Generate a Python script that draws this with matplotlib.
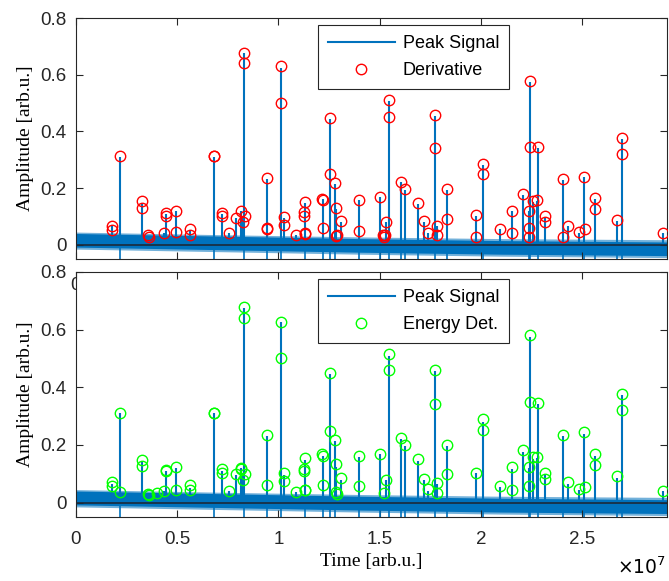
import matplotlib
matplotlib.use("Agg")
import matplotlib.pyplot as plt
from matplotlib.lines import Line2D
from matplotlib.ticker import FuncFormatter

# peak signal: spike positions (x1e7) and spike heights
spike_t = [0.176, 0.217, 0.324, 0.358, 0.436, 0.444, 0.494, 0.563, 0.681, 0.722,
           0.757, 0.793, 0.814, 0.823, 0.829, 0.944, 1.012, 1.027, 1.086, 1.130,
           1.219, 1.255, 1.280, 1.287, 1.308, 1.397, 1.504, 1.530, 1.545, 1.604,
           1.627, 1.691, 1.719, 1.739, 1.774, 1.785, 1.833, 1.978, 2.010, 2.096,
           2.155, 2.208, 2.236, 2.244, 2.257, 2.279, 2.282, 2.318, 2.405, 2.433,
           2.483, 2.512, 2.562, 2.674, 2.697, 2.902]
spike_h = [0.065, 0.310, 0.145, 0.030, 0.040, 0.110, 0.120, 0.050, 0.310, 0.110,
           0.040, 0.095, 0.120, 0.100, 0.675, 0.232, 0.625, 0.095, 0.035, 0.148,
           0.160, 0.445, 0.215, 0.125, 0.080, 0.157, 0.167, 0.080, 0.508, 0.220,
           0.195, 0.143, 0.080, 0.040, 0.455, 0.065, 0.195, 0.103, 0.280, 0.055,
           0.118, 0.177, 0.120, 0.575, 0.150, 0.155, 0.343, 0.097, 0.230, 0.065,
           0.042, 0.238, 0.162, 0.085, 0.373, 0.040]
# spikes that also dip below the noise band
dip_t = [0.217, 0.681, 0.829, 0.944, 1.012, 1.130, 1.219, 1.255, 1.280, 1.397,
         1.504, 1.545, 1.604, 1.627, 1.691, 1.774, 1.833, 2.010, 2.236, 2.244,
         2.282, 2.405, 2.512, 2.562, 2.674, 2.697]

# noise band envelope
band_t = [0.0, 0.7, 1.4, 2.1, 2.92]
core_hi = [0.040, 0.031, 0.022, 0.015, 0.010]
core_lo = [-0.008, -0.017, -0.026, -0.033, -0.038]
fringe_hi = [0.045, 0.036, 0.028, 0.022, 0.018]
fringe_lo = [-0.015, -0.024, -0.033, -0.040, -0.045]

# detected peaks, derivative method
der_t = [0.176, 0.176, 0.217, 0.324, 0.324, 0.358, 0.360, 0.436, 0.444, 0.444,
         0.494, 0.494, 0.563, 0.563, 0.681, 0.683, 0.722, 0.722, 0.757, 0.793,
         0.814, 0.823, 0.836, 0.829, 0.829, 0.944, 0.944, 0.946, 1.012, 1.012,
         1.027, 1.027, 1.086, 1.130, 1.128, 1.128, 1.131, 1.132, 1.215, 1.219,
         1.219, 1.255, 1.256, 1.280, 1.287, 1.285, 1.290, 1.308, 1.397, 1.397,
         1.504, 1.516, 1.521, 1.525, 1.530, 1.545, 1.545, 1.604, 1.627, 1.691,
         1.719, 1.739, 1.774, 1.774, 1.785, 1.785, 1.833, 1.833, 1.978, 1.978,
         2.010, 2.010, 2.096, 2.155, 2.155, 2.208, 2.236, 2.236, 2.236, 2.244,
         2.244, 2.257, 2.279, 2.282, 2.318, 2.318, 2.405, 2.405, 2.433, 2.483,
         2.512, 2.515, 2.562, 2.562, 2.674, 2.697, 2.697, 2.902]
der_v = [0.067, 0.053, 0.314, 0.153, 0.129, 0.035, 0.029, 0.041, 0.114, 0.100,
         0.121, 0.045, 0.055, 0.034, 0.314, 0.313, 0.114, 0.100, 0.041, 0.096,
         0.121, 0.082, 0.102, 0.678, 0.640, 0.237, 0.059, 0.057, 0.631, 0.499,
         0.099, 0.070, 0.035, 0.152, 0.117, 0.102, 0.041, 0.038, 0.163, 0.159,
         0.059, 0.449, 0.250, 0.217, 0.129, 0.032, 0.034, 0.083, 0.159, 0.050,
         0.170, 0.033, 0.029, 0.033, 0.082, 0.511, 0.452, 0.223, 0.197, 0.146,
         0.083, 0.043, 0.457, 0.343, 0.068, 0.035, 0.197, 0.092, 0.106, 0.029,
         0.284, 0.250, 0.057, 0.121, 0.043, 0.180, 0.121, 0.059, 0.029, 0.577,
         0.346, 0.155, 0.159, 0.346, 0.100, 0.079, 0.232, 0.029, 0.068, 0.045,
         0.241, 0.055, 0.165, 0.126, 0.088, 0.376, 0.322, 0.041]

# detected peaks, energy detector
en_t = [0.176, 0.176, 0.217, 0.217, 0.324, 0.324, 0.358, 0.360, 0.398, 0.436,
        0.444, 0.446, 0.494, 0.494, 0.563, 0.563, 0.681, 0.683, 0.722, 0.722,
        0.757, 0.793, 0.814, 0.816, 0.823, 0.836, 0.829, 0.829, 0.944, 0.944,
        1.012, 1.012, 1.027, 1.027, 1.086, 1.130, 1.128, 1.128, 1.131, 1.132,
        1.215, 1.219, 1.219, 1.255, 1.256, 1.280, 1.287, 1.285, 1.290, 1.308,
        1.397, 1.397, 1.504, 1.521, 1.530, 1.545, 1.545, 1.604, 1.627, 1.691,
        1.719, 1.739, 1.774, 1.774, 1.785, 1.785, 1.833, 1.833, 1.978, 2.010,
        2.010, 2.096, 2.155, 2.155, 2.208, 2.236, 2.236, 2.244, 2.244, 2.257,
        2.279, 2.282, 2.318, 2.318, 2.405, 2.433, 2.483, 2.512, 2.515, 2.562,
        2.562, 2.674, 2.697, 2.697, 2.902]
en_v = [0.071, 0.056, 0.312, 0.038, 0.149, 0.126, 0.030, 0.026, 0.033, 0.040,
        0.110, 0.112, 0.122, 0.043, 0.060, 0.042, 0.312, 0.311, 0.117, 0.101,
        0.040, 0.100, 0.117, 0.121, 0.080, 0.100, 0.680, 0.642, 0.236, 0.060,
        0.628, 0.501, 0.103, 0.075, 0.036, 0.153, 0.115, 0.109, 0.045, 0.043,
        0.168, 0.163, 0.060, 0.451, 0.250, 0.216, 0.135, 0.035, 0.031, 0.086,
        0.160, 0.057, 0.170, 0.032, 0.079, 0.516, 0.460, 0.225, 0.198, 0.150,
        0.083, 0.046, 0.460, 0.342, 0.069, 0.032, 0.198, 0.100, 0.104, 0.289,
        0.252, 0.059, 0.124, 0.044, 0.181, 0.124, 0.057, 0.580, 0.350, 0.158,
        0.158, 0.345, 0.104, 0.083, 0.235, 0.071, 0.047, 0.244, 0.055, 0.167,
        0.131, 0.091, 0.375, 0.322, 0.040]

xtick_vals = [0, 0.5, 1, 1.5, 2, 2.5]
ytick_vals = [0, 0.2, 0.4, 0.6, 0.8]

blue = '#0072BD'
sans = ['Liberation Sans', 'DejaVu Sans']
serif = ['Liberation Serif', 'DejaVu Serif']
plt.rcParams['font.family'] = sans

fig = plt.figure(figsize=(6.69, 5.81), dpi=100)
ax1 = fig.add_axes([0.1136, 0.5542, 0.8834, 0.4148])
ax2 = fig.add_axes([0.1136, 0.1102, 0.8834, 0.4217])

panels = [(ax1, der_t, der_v, 'r', 'Derivative'),
          (ax2, en_t, en_v, '#00FF00', 'Energy Det.')]

for ax, pt, pv, col, name in panels:
    ax.set_facecolor('white')
    bt = [t * 1e7 for t in band_t]
    ax.fill_between(bt, fringe_lo, fringe_hi, color=blue, alpha=0.55, lw=0, zorder=1)
    ax.fill_between(bt, core_lo, core_hi, color=blue, lw=0, zorder=1)
    ax.vlines([t * 1e7 for t in spike_t], 0.0, spike_h, color=blue, lw=1.5, zorder=2)
    ax.vlines([t * 1e7 for t in dip_t], -0.05, 0.0, color=blue, lw=1.2, zorder=2)
    ax.axhline(0.0, color='#1c2a3a', lw=1.2, zorder=3)
    ax.plot([t * 1e7 for t in pt], pv, 'o', mfc='none', mec=col, ms=7.5, mew=1.0, zorder=4)

    ax.set_xlim(0, 2.92e7)
    ax.set_ylim(-0.05, 0.8)
    ax.set_xticks([v * 1e7 for v in xtick_vals])
    ax.set_yticks(ytick_vals)
    ax.yaxis.set_major_formatter(FuncFormatter(lambda y, p: '%g' % y))
    ax.tick_params(direction='in', top=True, right=True, length=5, width=0.8,
                   colors='#262626', labelsize=13.5, pad=7)
    for s in ax.spines.values():
        s.set_color('#262626')
        s.set_linewidth(0.8)
    ax.set_ylabel('Amplitude [arb.u.]', family=serif, fontsize=14, labelpad=4)

    handles = [Line2D([], [], color=blue, lw=1.5),
               Line2D([], [], marker='o', ls='none', mfc='none', mec=col, ms=7.5)]
    leg = ax.legend(handles, ['Peak Signal', name], loc='upper right',
                    bbox_to_anchor=(0.733, 0.971), borderaxespad=0, fancybox=False,
                    framealpha=1, edgecolor='#262626', fontsize=13, handlelength=3.7,
                    handletextpad=0.45, borderpad=0.55, labelspacing=0.55)
    leg.get_frame().set_linewidth(0.8)
    leg.set_zorder(10)

# upper panel: only the "0" peeks out from behind the lower axes
ax1.set_xticklabels(['0'] + [''] * (len(xtick_vals) - 1))
ax1.tick_params(axis='x', pad=13)
ax2.set_xticklabels(['%g' % v for v in xtick_vals])
ax2.tick_params(axis='x', pad=10)
ax2.set_xlabel('Time [arb.u.]', family=serif, fontsize=14, labelpad=4)
fig.text(0.995, 0.005, r'$\times10^{7}$', ha='right', va='bottom', fontsize=13.5)

fig.savefig('out.png', dpi=100)
